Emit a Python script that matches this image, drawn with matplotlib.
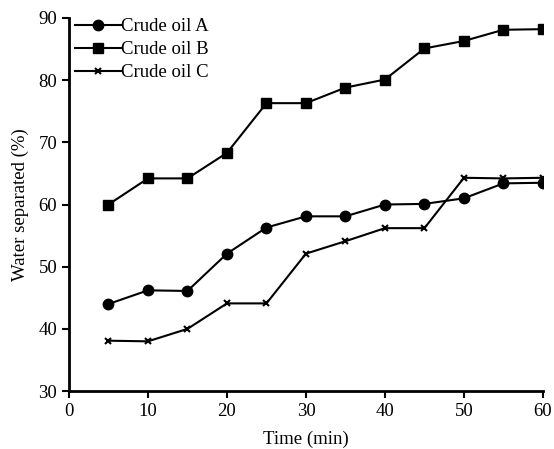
import matplotlib
matplotlib.use("Agg")
import matplotlib.pyplot as plt

plt.rcParams['font.family'] = ['Liberation Serif', 'DejaVu Serif']

time = [5, 10, 15, 20, 25, 30, 35, 40, 45, 50, 55, 60]
oil_a = [44.0, 46.2, 46.1, 52.1, 56.3, 58.1, 58.1, 60.0, 60.1, 61.0, 63.4, 63.5]
oil_b = [60.0, 64.2, 64.2, 68.3, 76.3, 76.3, 78.8, 80.1, 85.1, 86.3, 88.1, 88.2]
oil_c = [38.1, 38.0, 40.0, 44.1, 44.1, 52.1, 54.1, 56.2, 56.2, 64.3, 64.2, 64.3]
xticks = [0, 10, 20, 30, 40, 50, 60]
yticks = [30, 40, 50, 60, 70, 80, 90]

fig = plt.figure(figsize=(5.54, 4.49), dpi=100)
ax = fig.add_axes([0.1245, 0.129, 0.8555, 0.831])

ax.plot(time, oil_a, color='black', lw=1.5, marker='o', ms=7.5, label='Crude oil A')
ax.plot(time, oil_b, color='black', lw=1.5, marker='s', ms=7.5, label='Crude oil B')
ax.plot(time, oil_c, color='black', lw=1.5, marker='x', ms=5, mew=1.5, label='Crude oil C')

ax.set_xlim(0, 60)
ax.set_ylim(30, 90)
ax.set_xticks(xticks)
ax.set_yticks(yticks)
ax.spines['top'].set_visible(False)
ax.spines['right'].set_visible(False)
for s in ['left', 'bottom']:
    ax.spines[s].set_linewidth(2)
ax.tick_params(direction='out', width=1.5, length=5, labelsize=13.5)
ax.set_xlabel('Time (min)', fontsize=13.5, labelpad=8)
ax.set_ylabel('Water separated (%)', fontsize=13.5, labelpad=7)

ax.legend(loc='upper left', frameon=False, fontsize=13.5, handlelength=2.45,
          borderaxespad=0.0, borderpad=0.0, labelspacing=0.32, handletextpad=0.0,
          bbox_to_anchor=(0.012, 1.0))

fig.savefig('out.png', dpi=100)
